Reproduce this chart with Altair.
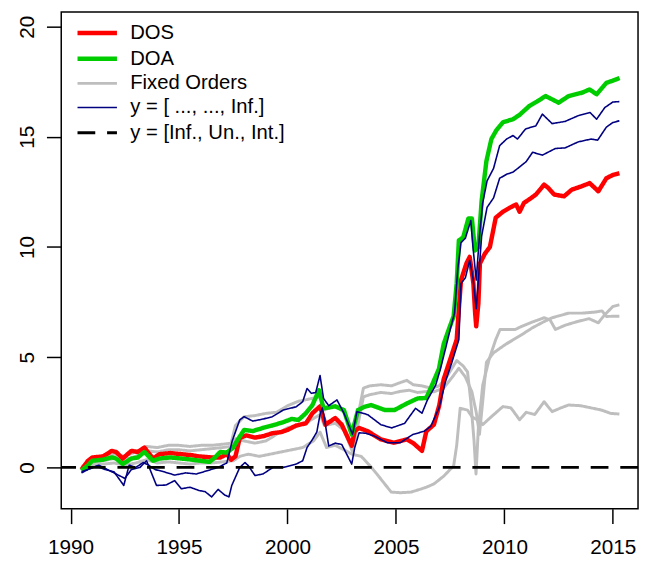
import altair as alt
import pandas as pd

SERIES = ["DOS", "DOA", "Fixed Orders", "y = [ ..., ..., Inf.]", "y = [Inf., Un., Int.]"]
COLORS = ["#FF0000", "#00CD00", "#BEBEBE", "#000080", "#000000"]
WIDTHS = [4.5, 4.5, 3, 1.6, 3]
DASHES = [[1, 0], [1, 0], [1, 0], [1, 0], [18, 12]]
X_TICKS = [1990, 1995, 2000, 2005, 2010, 2015]
Y_TICKS = [0, 5, 10, 15, 20]
ZERO_LINE = [0]

DOS = [(1990.5, -0.1), (1990.8, 0.3), (1991.0, 0.45), (1991.5, 0.5), (1991.9, 0.75), (1992.1, 0.7),
       (1992.4, 0.4), (1992.8, 0.75), (1993.1, 0.7), (1993.4, 0.9), (1993.8, 0.4), (1994.1, 0.6),
       (1994.6, 0.65), (1995.1, 0.6), (1995.6, 0.55), (1995.9, 0.5), (1996.5, 0.45), (1996.9, 0.45),
       (1997.2, 0.6), (1997.4, 0.35), (1997.6, 0.5), (1997.8, 1.34), (1998.1, 1.45), (1998.5, 1.35),
       (1998.9, 1.42), (1999.3, 1.55), (1999.7, 1.6), (2000.0, 1.7), (2000.4, 1.9), (2000.85, 2.0),
       (2001.15, 2.46), (2001.5, 2.77), (2001.75, 1.94), (2002.2, 2.24), (2002.5, 1.94), (2002.96, 0.98),
       (2003.1, 1.65), (2003.3, 1.79), (2003.7, 1.64), (2004.3, 1.27), (2004.9, 1.12), (2005.5, 1.27),
       (2005.8, 1.1), (2006.2, 0.75), (2006.4, 1.64), (2006.75, 1.94), (2007.0, 2.83), (2007.2, 4.0),
       (2007.5, 4.9), (2007.8, 5.8), (2007.9, 7.2), (2008.0, 8.5), (2008.25, 9.26), (2008.4, 9.55),
       (2008.57, 8.35), (2008.65, 7.0), (2008.7, 6.4), (2008.8, 7.45), (2008.87, 9.25), (2009.1, 9.7),
       (2009.33, 10.0), (2009.6, 11.33), (2009.93, 11.6), (2010.24, 11.78), (2010.54, 11.93),
       (2010.7, 11.6), (2010.9, 12.0), (2011.2, 12.2), (2011.45, 12.38), (2011.83, 12.83), (2012.0, 12.7),
       (2012.3, 12.38), (2012.75, 12.3), (2013.1, 12.6), (2013.57, 12.76), (2013.93, 12.9),
       (2014.33, 12.53), (2014.7, 13.12), (2015.0, 13.27), (2015.3, 13.35)]

DOA = [(1990.5, -0.15), (1990.8, 0.1), (1991.0, 0.3), (1991.5, 0.35), (1991.9, 0.45), (1992.1, 0.4),
       (1992.4, 0.15), (1992.8, 0.4), (1993.1, 0.45), (1993.4, 0.7), (1993.8, 0.3), (1994.1, 0.4),
       (1994.6, 0.45), (1995.1, 0.4), (1995.6, 0.35), (1996.0, 0.3), (1996.4, 0.25), (1996.6, 0.4),
       (1996.9, 0.7), (1997.2, 0.67), (1997.5, 0.9), (1997.7, 1.25), (1998.0, 1.7), (1998.4, 1.65),
       (1998.9, 1.8), (1999.3, 1.9), (1999.8, 2.05), (2000.2, 2.2), (2000.5, 2.15), (2000.85, 2.46),
       (2001.15, 2.83), (2001.45, 3.5), (2001.66, 2.68), (2002.2, 2.77), (2002.6, 2.6), (2002.96, 1.49),
       (2003.25, 2.6), (2003.55, 2.75), (2003.85, 2.83), (2004.5, 2.6), (2004.93, 2.6), (2005.5, 2.9),
       (2006.0, 3.13), (2006.4, 3.15), (2006.66, 3.73), (2006.98, 4.47), (2007.2, 5.6), (2007.45, 6.3),
       (2007.66, 6.86), (2007.8, 8.35), (2007.9, 10.3), (2008.1, 10.44), (2008.34, 11.3), (2008.5, 11.3),
       (2008.64, 9.84), (2008.8, 10.0), (2008.95, 12.1), (2009.17, 13.9), (2009.4, 14.9), (2009.63, 15.3),
       (2009.93, 15.66), (2010.4, 15.8), (2010.7, 16.0), (2011.15, 16.4), (2011.5, 16.6), (2011.9, 16.85),
       (2012.2, 16.7), (2012.5, 16.55), (2012.96, 16.85), (2013.57, 17.0), (2013.93, 17.15),
       (2014.25, 16.93), (2014.7, 17.45), (2015.0, 17.55), (2015.31, 17.67)]

INF_UPPER = [(1990.5, -0.25), (1990.8, -0.1), (1991.2, 0.05), (1991.6, -0.1), (1992.0, -0.2),
             (1992.45, -0.82), (1992.7, 0.1), (1993.0, 0.0), (1993.35, 0.22), (1993.6, 0.1),
             (1993.9, -0.1), (1994.3, -0.2), (1994.8, -0.35), (1995.3, -0.25), (1995.8, -0.3),
             (1996.3, -0.15), (1996.8, 0.0), (1997.2, 0.2), (1997.45, 1.2), (1997.8, 2.16), (1998.0, 2.3),
             (1998.4, 2.1), (1998.9, 2.2), (1999.3, 2.3), (1999.8, 2.6), (2000.4, 2.75), (2000.7, 2.98),
             (2000.9, 3.58), (2001.1, 3.36), (2001.3, 3.4), (2001.5, 4.17), (2001.66, 3.13), (2001.9, 2.8),
             (2002.28, 3.06), (2002.6, 2.46), (2003.0, 1.49), (2003.2, 2.53), (2003.5, 2.45), (2003.7, 2.39),
             (2004.3, 1.94), (2004.8, 1.79), (2005.4, 2.0), (2005.9, 2.68), (2006.2, 2.46), (2006.45, 3.06),
             (2006.83, 3.73), (2007.05, 4.47), (2007.28, 5.37), (2007.5, 6.26), (2007.7, 7.0), (2007.85, 9.0),
             (2008.0, 10.2), (2008.2, 10.4), (2008.45, 11.2), (2008.55, 10.0), (2008.7, 8.5), (2008.85, 10.5),
             (2009.0, 12.0), (2009.2, 13.0), (2009.5, 13.57), (2009.78, 14.6), (2010.1, 14.9), (2010.4, 15.06),
             (2010.6, 14.9), (2010.98, 15.36), (2011.45, 15.5), (2011.75, 16.03), (2012.2, 15.6),
             (2012.8, 15.7), (2013.4, 15.96), (2013.95, 16.1), (2014.25, 15.8), (2014.63, 16.33),
             (2015.0, 16.58), (2015.3, 16.6)]

INF_LOWER = [(1990.5, -0.2), (1990.9, -0.05), (1991.3, 0.1), (1991.7, -0.1), (1992.1, -0.3), (1992.5, -0.5),
             (1992.8, -0.1), (1993.2, 0.0), (1993.5, 0.3), (1993.96, -0.82), (1994.4, -0.8), (1994.8, -0.6),
             (1995.1, -0.97), (1995.5, -0.9), (1995.93, -1.05), (1996.2, -1.1), (1996.5, -1.34),
             (1996.8, -1.0), (1997.1, -1.25), (1997.3, -1.34), (1997.43, -0.82), (1997.8, 0.0),
             (1998.04, 0.22), (1998.2, 0.07), (1998.5, -0.37), (1998.87, -0.3), (1999.33, 0.0), (1999.8, 0.0),
             (2000.4, 0.15), (2000.7, 0.3), (2000.9, 0.9), (2001.15, 1.27), (2001.35, 1.6), (2001.5, 2.4),
             (2001.6, 2.7), (2001.7, 2.24), (2001.9, 0.97), (2002.2, 1.1), (2002.5, 1.04), (2002.96, 0.15),
             (2003.1, 0.9), (2003.3, 1.57), (2003.6, 1.55), (2004.0, 1.42), (2004.6, 1.12), (2005.2, 1.12),
             (2005.77, 1.49), (2006.3, 1.64), (2006.6, 1.86), (2006.98, 2.68), (2007.28, 3.88),
             (2007.58, 4.77), (2007.9, 5.8), (2008.0, 8.35), (2008.2, 8.6), (2008.4, 9.4), (2008.55, 8.6),
             (2008.7, 7.2), (2008.8, 8.5), (2008.95, 10.5), (2009.2, 11.8), (2009.5, 12.23), (2009.78, 13.12),
             (2010.1, 13.3), (2010.4, 13.4), (2011.0, 13.87), (2011.3, 14.3), (2011.75, 14.17),
             (2012.35, 14.47), (2012.8, 14.5), (2013.4, 14.77), (2014.0, 14.9), (2014.3, 14.85),
             (2014.7, 15.44), (2015.0, 15.65), (2015.3, 15.73)]

FIXED_1 = [(1990.5, 0.0), (1991.0, 0.3), (1991.5, 0.4), (1992.0, 0.6), (1992.5, 0.5), (1993.0, 0.7),
           (1993.5, 0.95), (1994.0, 0.9), (1994.5, 1.0), (1995.0, 1.0), (1995.5, 0.95), (1996.0, 1.0),
           (1996.5, 1.0), (1997.0, 1.05), (1997.4, 1.1), (1997.6, 1.9), (1998.0, 2.3), (1998.5, 2.35),
           (1999.0, 2.45), (1999.5, 2.5), (2000.0, 2.8), (2000.5, 3.0), (2001.0, 3.1), (2001.5, 3.2),
           (2001.7, 2.6), (2002.2, 2.8), (2002.6, 2.5), (2003.0, 1.7), (2003.3, 2.6), (2003.5, 3.6),
           (2003.8, 3.7), (2004.3, 3.75), (2004.8, 3.7), (2005.2, 3.85), (2005.5, 3.95), (2005.8, 3.75),
           (2006.2, 3.7), (2006.6, 3.6), (2007.0, 3.7), (2007.4, 4.2), (2007.8, 4.85), (2008.1, 4.6),
           (2008.3, 4.33), (2008.45, 3.0), (2008.6, 1.2), (2008.69, -0.3), (2008.8, 1.8), (2009.0, 3.73),
           (2009.3, 4.92), (2009.6, 5.8), (2009.8, 6.26), (2010.5, 6.26), (2010.8, 6.4), (2011.3, 6.6),
           (2011.83, 6.79), (2012.1, 6.7), (2012.35, 6.26), (2012.8, 6.45), (2013.3, 6.6), (2013.9, 6.75),
           (2014.33, 6.56), (2014.6, 6.9), (2015.0, 7.3), (2015.3, 7.38)]

FIXED_2 = [(1990.5, 0.0), (1991.0, 0.2), (1991.5, 0.3), (1992.0, 0.4), (1992.5, 0.35), (1993.0, 0.5),
           (1993.5, 0.75), (1994.0, 0.7), (1994.5, 0.8), (1995.0, 0.8), (1995.5, 0.75), (1996.0, 0.8),
           (1996.5, 0.85), (1997.0, 0.9), (1997.4, 0.95), (1997.6, 1.3), (1998.0, 1.2), (1998.5, 1.1),
           (1999.0, 1.2), (1999.5, 1.5), (2000.0, 1.8), (2000.5, 1.9), (2001.0, 2.1), (2001.5, 2.4),
           (2001.7, 1.9), (2002.2, 2.0), (2002.6, 1.7), (2003.0, 0.7), (2003.3, 2.2), (2003.5, 3.2),
           (2003.8, 3.3), (2004.3, 3.4), (2004.8, 3.35), (2005.2, 3.45), (2005.6, 3.5), (2006.0, 3.4),
           (2006.5, 3.45), (2006.75, 3.43), (2007.2, 3.6), (2007.6, 4.1), (2007.9, 4.5), (2008.2, 4.1),
           (2008.5, 3.43), (2008.7, 2.5), (2008.85, 1.5), (2009.0, 3.0), (2009.17, 4.77), (2009.5, 5.2),
           (2010.08, 5.6), (2010.7, 5.96), (2011.3, 6.34), (2011.8, 6.6), (2012.2, 6.79), (2012.96, 7.0),
           (2013.6, 7.0), (2014.2, 7.05), (2014.5, 7.1), (2014.7, 6.85), (2015.3, 6.86)]

FIXED_3 = [(1990.5, 0.0), (1991.0, 0.1), (1991.5, 0.15), (1992.0, 0.2), (1992.5, 0.1), (1993.0, 0.2),
           (1993.5, 0.35), (1994.0, 0.2), (1994.5, 0.25), (1995.0, 0.2), (1995.5, 0.15), (1996.0, 0.2),
           (1996.5, 0.2), (1997.0, 0.25), (1997.5, 0.3), (1997.8, 0.5), (1998.2, 0.6), (1998.7, 0.5),
           (1999.2, 0.6), (1999.7, 0.7), (2000.2, 0.8), (2000.7, 0.9), (2001.2, 1.2), (2001.5, 1.6),
           (2001.8, 0.9), (2002.2, 1.0), (2002.6, 0.8), (2002.96, 0.6), (2003.4, 0.5), (2003.87, 0.0),
           (2004.2, -0.4), (2004.48, -0.75), (2004.78, -1.12), (2005.2, -1.15), (2005.7, -1.12),
           (2006.1, -1.0), (2006.4, -0.9), (2006.75, -0.75), (2007.2, -0.4), (2007.66, 0.07), (2007.8, 1.0),
           (2007.96, 2.68), (2008.3, 2.6), (2008.5, 2.3), (2008.87, 2.09), (2009.0, 1.94), (2009.4, 2.3),
           (2009.93, 2.76), (2010.3, 2.7), (2010.7, 2.16), (2011.0, 2.5), (2011.4, 2.4), (2011.83, 2.98),
           (2012.2, 2.53), (2012.6, 2.7), (2012.96, 2.83), (2013.5, 2.8), (2014.0, 2.7), (2014.48, 2.6),
           (2014.9, 2.45), (2015.3, 2.42)]


def frame(pairs, series, line):
    df = pd.DataFrame(pairs, columns=["year", "value"])
    df["series"] = series
    df["line"] = line
    return df


gray_df = pd.concat([frame(FIXED_1, SERIES[2], "f1"), frame(FIXED_2, SERIES[2], "f2"),
                     frame(FIXED_3, SERIES[2], "f3")])
dos_df = frame(DOS, SERIES[0], "dos")
doa_df = frame(DOA, SERIES[1], "doa")
inf_df = pd.concat([frame(INF_UPPER, SERIES[3], "i1"), frame(INF_LOWER, SERIES[3], "i2")])
zero_df = pd.DataFrame({"value": ZERO_LINE, "series": [SERIES[4]]})

x_enc = alt.X("year:Q", scale=alt.Scale(domain=[1989.568, 2016.16], nice=False, zero=False),
              axis=alt.Axis(values=X_TICKS, format="d", title=None, grid=False, domain=False,
                            tickSize=15, tickWidth=1.5, tickColor="black", labelFontSize=21,
                            labelPadding=13, labelColor="black", labelFont="Liberation Sans"))
y_enc = alt.Y("value:Q", scale=alt.Scale(domain=[-1.88, 20.67], nice=False, zero=False),
              axis=alt.Axis(values=Y_TICKS, title=None, grid=False, domain=False,
                            tickSize=15, tickWidth=1.5, tickColor="black", labelFontSize=21,
                            labelAngle=270, labelAlign="center", labelBaseline="alphabetic",
                            labelPadding=13, labelColor="black", labelFont="Liberation Sans"))
color_enc = alt.Color("series:N", scale=alt.Scale(domain=SERIES, range=COLORS), legend=alt.Legend(title=None))
dash_enc = alt.StrokeDash("series:N", scale=alt.Scale(domain=SERIES, range=DASHES), legend=alt.Legend(title=None))
width_enc = alt.StrokeWidth("series:N", scale=alt.Scale(type="ordinal", domain=SERIES, range=WIDTHS),
                            legend=alt.Legend(title=None))


def line_layer(df):
    return alt.Chart(df).mark_line(clip=True, strokeCap="butt", strokeJoin="round").encode(
        x=x_enc, y=y_enc, color=color_enc, strokeDash=dash_enc, strokeWidth=width_enc,
        detail="line:N")


rule = alt.Chart(zero_df).mark_rule(strokeCap="butt").encode(
    y=y_enc, color=color_enc, strokeDash=dash_enc, strokeWidth=width_enc)

chart = alt.layer(
    line_layer(gray_df), line_layer(dos_df), line_layer(doa_df), line_layer(inf_df), rule
).properties(
    width=585, height=504,
    autosize=alt.AutoSizeParams(type="none"),
    padding={"left": 54, "top": 0, "right": 2, "bottom": 50},
).configure_view(
    stroke="black", strokeWidth=1.5
).configure_legend(
    orient="none", legendX=24, legendY=9, labelFontSize=20.5, labelFont="Liberation Sans",
    labelColor="black", symbolSize=400, symbolType="M-2,0H2", labelOffset=21, rowPadding=3,
    padding=0
)

chart.save("out.html", embed_options={"renderer": "svg", "actions": False})
